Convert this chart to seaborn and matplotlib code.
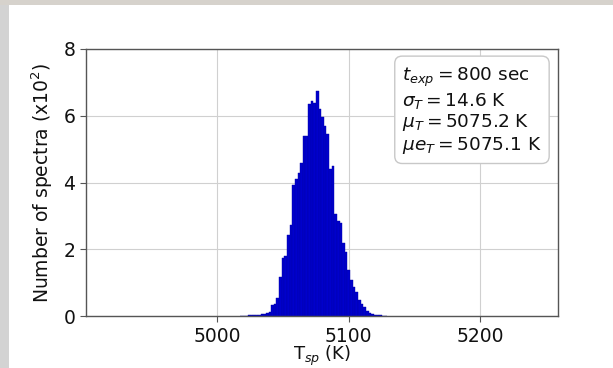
import numpy as np
import pandas as pd
import matplotlib
matplotlib.use("Agg")
import matplotlib.pyplot as plt
from matplotlib.patches import Rectangle
import seaborn as sns

# Histogram of fitted spot temperatures: bin centres (K) and counts (x10^2)
bin_centers = [5018, 5020, 5022, 5024, 5026, 5028, 5030, 5032, 5034, 5036,
               5038, 5040, 5042, 5044, 5046, 5048, 5050, 5052, 5054, 5056,
               5058, 5060, 5062, 5064, 5066, 5068, 5070, 5072, 5074, 5076,
               5078, 5080, 5082, 5084, 5086, 5088, 5090, 5092, 5094, 5096,
               5098, 5100, 5102, 5104, 5106, 5108, 5110, 5112, 5114, 5116,
               5118, 5120, 5122, 5124, 5126, 5128]
counts = [0.01, 0.01, 0.01, 0.02, 0.02, 0.02, 0.03, 0.04, 0.06, 0.07,
          0.08, 0.13, 0.33, 0.36, 0.55, 1.18, 1.73, 1.80, 2.44, 2.74,
          3.94, 4.10, 4.29, 4.59, 5.39, 5.39, 6.35, 6.45, 6.38, 6.73,
          6.20, 5.95, 5.70, 5.45, 4.40, 4.50, 3.05, 2.84, 2.80, 2.20,
          1.93, 1.38, 1.08, 0.88, 0.73, 0.48, 0.35, 0.26, 0.16, 0.10,
          0.06, 0.04, 0.02, 0.02, 0.01, 0.01]
bin_width = 2.0

x_ticks = [5000, 5100, 5200]
y_ticks = [0, 2, 4, 6, 8]
stats_lines = [r"$t_{exp} = 800$ sec",
               r"$\sigma_T = 14.6$ K",
               r"$\mu_T = 5075.2$ K",
               r"$\mu e_T = 5075.1$ K"]

plt.rcParams["font.family"] = ["DejaVu Sans"]
plt.rcParams["mathtext.fontset"] = "dejavusans"

fig = plt.figure(figsize=(6.13, 3.68), dpi=100)
fig.patch.set_facecolor("white")
ax = fig.add_axes([0.140, 0.141, 0.770, 0.726])

df = pd.DataFrame({"T": bin_centers, "n": counts})
edges = [c - bin_width / 2 for c in bin_centers] + [bin_centers[-1] + bin_width / 2]
sns.histplot(data=df, x="T", weights="n", bins=edges, ax=ax,
             color="#0000cc", edgecolor="#0000a8", linewidth=0.3,
             alpha=1.0, stat="count", zorder=2)

ax.set_xlim(4900, 5259)
ax.set_ylim(0, 8)
ax.set_xticks(x_ticks)
ax.set_yticks(y_ticks)
ax.grid(True, color="#d0d0d0", linewidth=0.8, zorder=0)
ax.set_axisbelow(True)
for s in ax.spines.values():
    s.set_color("#555555")
    s.set_linewidth(1.0)
ax.tick_params(axis="both", labelsize=13.5, colors="#555555",
               labelcolor="#111111", length=4, width=0.8)
ax.tick_params(axis="x", pad=4)

ax.set_xlabel(r"T$_{sp}$ (K)", fontsize=13, color="#111111", labelpad=-1.5)
ax.set_ylabel(r"Number of spectra (x10$^2$)", fontsize=13.5,
              color="#111111", labelpad=6)

ax.text(0.966, 0.938, "\n".join(stats_lines), transform=ax.transAxes,
        ha="right", va="top", multialignment="left", fontsize=13.3,
        color="#111111", linespacing=1.12,
        bbox=dict(boxstyle="round,pad=0.4", facecolor="white",
                  edgecolor="#c8c8c8", linewidth=1.0), zorder=5)

# screenshot frame strips along the left and top edges
fig.patches.append(Rectangle((0, 0), 9 / 613, 1, transform=fig.transFigure,
                             facecolor="#d3d3d3", edgecolor="none", zorder=-1))
fig.patches.append(Rectangle((0, 1 - 5 / 368), 1, 5 / 368,
                             transform=fig.transFigure,
                             facecolor="#d6d2cc", edgecolor="none", zorder=-1))

fig.savefig("out.png", dpi=100)
